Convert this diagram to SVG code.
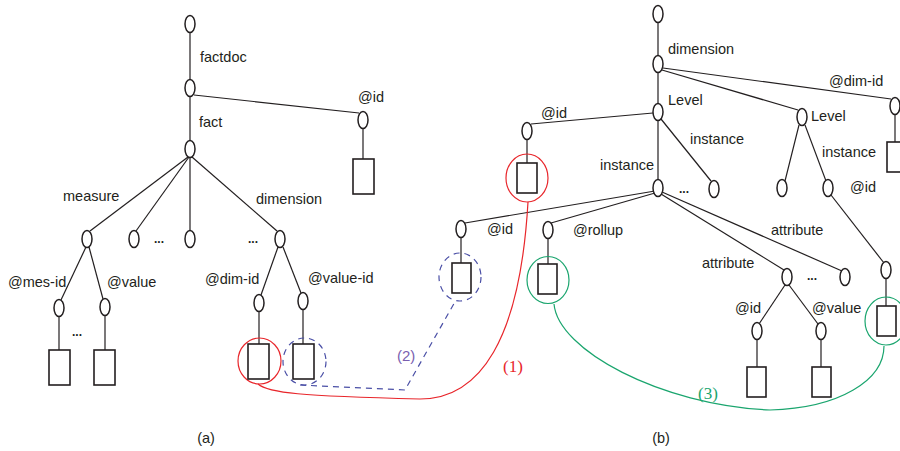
<svg xmlns="http://www.w3.org/2000/svg" width="900" height="451" viewBox="0 0 900 451">
<style>
.n{fill:#fff;stroke:#231f20;stroke-width:1.5}
.r{fill:#fff;stroke:#231f20;stroke-width:1.6}
.e{stroke:#231f20;stroke-width:1.2;fill:none}
.t{font-family:"Liberation Sans",Arial,sans-serif;font-size:14.5px;fill:#231f20}
.d{font-family:"Liberation Sans",Arial,sans-serif;font-size:12px;font-weight:bold;fill:#231f20}
.red{stroke:#e8262b;stroke-width:1.2;fill:none}
.grn{stroke:#1aa56e;stroke-width:1.2;fill:none}
.blu{stroke:#4a4fa6;stroke-width:1.2;fill:none;stroke-dasharray:6 5}
</style>
<rect width="900" height="451" fill="#fff"/>
<g id="connectors">
<line class="e" x1="190" y1="33" x2="190" y2="79"/>
<line class="e" x1="190" y1="97" x2="190" y2="140"/>
<line class="e" x1="194" y1="95" x2="359" y2="113"/>
<line class="e" x1="363" y1="128" x2="363" y2="159"/>
<line class="e" x1="188" y1="157" x2="90" y2="231"/>
<line class="e" x1="189" y1="157" x2="136" y2="231"/>
<line class="e" x1="190" y1="157" x2="190" y2="230"/>
<line class="e" x1="192" y1="157" x2="277" y2="231"/>
<line class="e" x1="86" y1="247" x2="61" y2="300"/>
<line class="e" x1="89" y1="247" x2="103" y2="299"/>
<line class="e" x1="59" y1="316" x2="59" y2="350"/>
<line class="e" x1="105" y1="315" x2="105" y2="350"/>
<line class="e" x1="278" y1="247" x2="261" y2="295"/>
<line class="e" x1="283" y1="247" x2="301" y2="293"/>
<line class="e" x1="259" y1="311" x2="259" y2="344"/>
<line class="e" x1="303" y1="309" x2="303" y2="344"/>
<line class="e" x1="658" y1="22" x2="658" y2="56"/>
<line class="e" x1="658" y1="72" x2="658" y2="104"/>
<line class="e" x1="658" y1="120" x2="658" y2="180"/>
<line class="e" x1="662" y1="70" x2="798" y2="110"/>
<line class="e" x1="663" y1="68" x2="891" y2="99"/>
<line class="e" x1="895" y1="114" x2="895" y2="142"/>
<line class="e" x1="653" y1="113" x2="531" y2="124"/>
<line class="e" x1="527" y1="139" x2="527" y2="163"/>
<line class="e" x1="661" y1="119" x2="711" y2="181"/>
<line class="e" x1="799" y1="125" x2="785" y2="181"/>
<line class="e" x1="805" y1="125" x2="826" y2="181"/>
<line class="e" x1="831" y1="195" x2="884" y2="263"/>
<line class="e" x1="886" y1="278" x2="886" y2="306"/>
<line class="e" x1="655" y1="191" x2="465" y2="223"/>
<line class="e" x1="655" y1="193" x2="551" y2="223"/>
<line class="e" x1="661" y1="194" x2="784" y2="270"/>
<line class="e" x1="662" y1="192" x2="842" y2="271"/>
<line class="e" x1="461" y1="237" x2="461" y2="263"/>
<line class="e" x1="548" y1="238" x2="548" y2="264"/>
<line class="e" x1="785" y1="285" x2="759" y2="324"/>
<line class="e" x1="789" y1="285" x2="818" y2="324"/>
<line class="e" x1="757" y1="339" x2="757" y2="367"/>
<line class="e" x1="821" y1="339" x2="821" y2="367"/>
<ellipse class="red" cx="259.5" cy="361" rx="21.5" ry="23"/>
<ellipse class="blu" cx="304.5" cy="361.5" rx="21.5" ry="23.5"/>
<ellipse class="red" cx="527" cy="178" rx="21" ry="24"/>
<ellipse class="blu" cx="460" cy="277" rx="21" ry="24"/>
<ellipse class="grn" cx="548" cy="280" rx="21" ry="23.5"/>
<ellipse class="grn" cx="886" cy="321" rx="21" ry="24"/>
<path class="red" d="M258 384 C268 393 300 396 420 399 C480 399 520 340 528 202"/>
<path class="blu" d="M300 385 L405 390 L456 300"/>
<path class="grn" d="M554 304 C558 350 660 405 770 410 C840 408 884 380 884 346"/>
</g>
<g id="a-root"><ellipse class="n" cx="190" cy="24" rx="5" ry="8.5"/></g>
<g id="a-factdoc"><ellipse class="n" cx="190" cy="88" rx="5" ry="8.5"/></g>
<g id="a-fact"><ellipse class="n" cx="190" cy="149" rx="5" ry="8.5"/></g>
<g id="a-id"><ellipse class="n" cx="363" cy="120" rx="5" ry="8.5"/></g>
<g id="a-id-val"><rect class="r" x="353" y="159" width="21" height="35"/></g>
<g id="a-measure"><ellipse class="n" cx="87" cy="239" rx="5" ry="8.5"/></g>
<g id="a-m2"><ellipse class="n" cx="134" cy="239" rx="5" ry="8.5"/></g>
<g id="a-m3"><ellipse class="n" cx="190" cy="239" rx="5" ry="8.5"/></g>
<g id="a-dimension"><ellipse class="n" cx="280" cy="239" rx="5" ry="8.5"/></g>
<g id="a-mesid"><ellipse class="n" cx="59" cy="308" rx="5" ry="8.5"/></g>
<g id="a-value"><ellipse class="n" cx="105" cy="307" rx="5" ry="8.5"/></g>
<g id="a-mesid-val"><rect class="r" x="49" y="350" width="21" height="35"/></g>
<g id="a-value-val"><rect class="r" x="94" y="350" width="21" height="35"/></g>
<g id="a-dimid"><ellipse class="n" cx="259" cy="303" rx="5" ry="8.5"/></g>
<g id="a-valueid"><ellipse class="n" cx="303" cy="301" rx="5" ry="8.5"/></g>
<g id="a-dimid-val"><rect class="r" x="248" y="344" width="21" height="35"/></g>
<g id="a-valueid-val"><rect class="r" x="293" y="344" width="21" height="35"/></g>
<g id="b-root"><ellipse class="n" cx="658" cy="14" rx="5" ry="8.5"/></g>
<g id="b-dimension"><ellipse class="n" cx="658" cy="64" rx="5" ry="8.5"/></g>
<g id="b-level"><ellipse class="n" cx="658" cy="112" rx="5" ry="8.5"/></g>
<g id="b-level2"><ellipse class="n" cx="802" cy="117" rx="5" ry="8.5"/></g>
<g id="b-dimid"><ellipse class="n" cx="895" cy="106" rx="5" ry="8.5"/></g>
<g id="b-dimid-val"><rect class="r" x="887" y="142" width="20" height="30"/></g>
<g id="b-id"><ellipse class="n" cx="527" cy="131" rx="5" ry="8.5"/></g>
<g id="b-id-val"><rect class="r" x="517" y="163" width="20" height="30"/></g>
<g id="b-instance"><ellipse class="n" cx="658" cy="188" rx="5" ry="8.5"/></g>
<g id="b-instance2"><ellipse class="n" cx="714" cy="189" rx="5" ry="8.5"/></g>
<g id="b-l2a"><ellipse class="n" cx="782" cy="188" rx="5" ry="8.5"/></g>
<g id="b-l2b"><ellipse class="n" cx="828" cy="188" rx="5" ry="8.5"/></g>
<g id="b-l2id"><ellipse class="n" cx="886" cy="270" rx="5" ry="8.5"/></g>
<g id="b-l2id-val"><rect class="r" x="877" y="306" width="19" height="30"/></g>
<g id="b-inst-id"><ellipse class="n" cx="461" cy="229" rx="5" ry="8.5"/></g>
<g id="b-inst-id-val"><rect class="r" x="452" y="263" width="19" height="30"/></g>
<g id="b-rollup"><ellipse class="n" cx="548" cy="230" rx="5" ry="8.5"/></g>
<g id="b-rollup-val"><rect class="r" x="538" y="264" width="19" height="30"/></g>
<g id="b-attr1"><ellipse class="n" cx="787" cy="277" rx="5" ry="8.5"/></g>
<g id="b-attr2"><ellipse class="n" cx="845" cy="277" rx="5" ry="8.5"/></g>
<g id="b-attr-id"><ellipse class="n" cx="757" cy="331" rx="5" ry="8.5"/></g>
<g id="b-attr-value"><ellipse class="n" cx="821" cy="331" rx="5" ry="8.5"/></g>
<g id="b-attr-id-val"><rect class="r" x="747" y="367" width="19" height="30"/></g>
<g id="b-attr-value-val"><rect class="r" x="812" y="367" width="19" height="30"/></g>
<g id="labels">
<text class="t" x="200" y="62">factdoc</text>
<text class="t" x="199" y="127">fact</text>
<text class="t" x="358" y="102">@id</text>
<text class="t" x="63" y="201">measure</text>
<text class="t" x="256" y="204">dimension</text>
<text class="d" x="154" y="243">...</text>
<text class="d" x="248" y="243">...</text>
<text class="d" x="72" y="336">...</text>
<text class="t" x="8" y="287">@mes-id</text>
<text class="t" x="107" y="287">@value</text>
<text class="t" x="205" y="284">@dim-id</text>
<text class="t" x="308" y="283">@value-id</text>
<text class="t" x="206" y="443" text-anchor="middle" font-size="16">(a)</text>
<text class="t" x="668" y="54">dimension</text>
<text class="t" x="829" y="86">@dim-id</text>
<text class="t" x="668" y="105">Level</text>
<text class="t" x="811" y="121">Level</text>
<text class="t" x="541" y="118">@id</text>
<text class="t" x="690" y="144">instance</text>
<text class="t" x="600" y="170">instance</text>
<text class="t" x="822" y="157">instance</text>
<text class="d" x="679" y="193">...</text>
<text class="t" x="850" y="192">@id</text>
<text class="t" x="487" y="234">@id</text>
<text class="t" x="573" y="235">@rollup</text>
<text class="t" x="771" y="235">attribute</text>
<text class="t" x="702" y="268">attribute</text>
<text class="d" x="807" y="280">...</text>
<text class="t" x="735" y="313">@id</text>
<text class="t" x="812" y="313">@value</text>
<text x="503" y="372" font-family="Liberation Serif,serif" font-size="17" fill="#e8262b">(1)</text>
<text x="397" y="361" font-family="Liberation Sans,sans-serif" font-size="15" fill="#7a5fb0">(2)</text>
<text x="698" y="399" font-family="Liberation Serif,serif" font-size="17" fill="#1aa56e">(3)</text>
<text class="t" x="661" y="443" text-anchor="middle" font-size="16">(b)</text>
</g>
</svg>
